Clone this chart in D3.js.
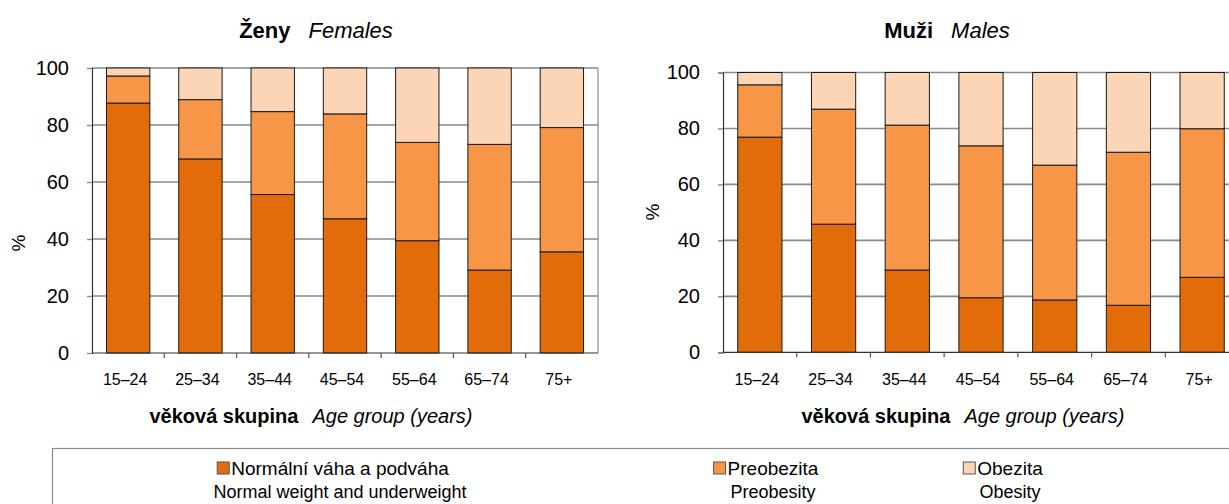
<!DOCTYPE html>
<html>
<head>
<meta charset="utf-8">
<script src="https://cdn.jsdelivr.net/npm/d3@7"></script>
<style>
  html, body { margin: 0; padding: 0; background: #fff; }
  svg { display: block; font-family: "Liberation Sans", Arial, sans-serif; }
</style>
</head>
<body>
<svg id="chart" width="1229" height="504"></svg>
<script>
// ---- data ----
const categories = ["15–24", "25–34", "35–44", "45–54", "55–64", "65–74", "75+"];
const seriesKeys = ["normal", "preobesity", "obesity"];
const seriesLabelsCz = ["Normální váha a podváha", "Preobezita", "Obezita"];
const seriesLabelsEn = ["Normal weight and underweight", "Preobesity", "Obesity"];

const femalesNormal     = [87.7, 68.1, 55.6, 47.1, 39.4, 29.1, 35.5];
const femalesPreobesity = [9.5, 20.8, 29.1, 36.8, 34.5, 44.1, 43.6];
const femalesObesity    = [2.8, 11.1, 15.3, 16.1, 26.1, 26.8, 20.9];

const malesNormal     = [76.9, 45.8, 29.4, 19.5, 18.7, 16.8, 26.8];
const malesPreobesity = [18.7, 41.1, 51.8, 54.3, 48.2, 54.7, 53.1];
const malesObesity    = [4.4, 13.1, 18.8, 26.2, 33.1, 28.5, 20.1];

const yTicks = [0, 20, 40, 60, 80, 100];

const colors = { normal: "#E36C0A", preobesity: "#F79646", obesity: "#FBD5B5" };

// ---- layout ----
const svg = d3.select("#chart");
const FONT = '"Liberation Sans", Arial, sans-serif';

const panels = [
  { titleCz: "Ženy", titleEn: "Females", titleX: 316, x0: 92, x1: 598, yTop: 68, yBot: 353,
    axisTitleX: 311, yLabelX: 18, yLabelY: 243,
    data: [femalesNormal, femalesPreobesity, femalesObesity] },
  { titleCz: "Muži", titleEn: "Males", titleX: 947, x0: 723, x1: 1239, yTop: 72.5, yBot: 352.3,
    axisTitleX: 963, yLabelX: 652, yLabelY: 212,
    data: [malesNormal, malesPreobesity, malesObesity] }
];

panels.forEach(p => {
  const g = svg.append("g");
  const x = d3.scaleBand().domain(categories).range([p.x0, p.x1]).paddingInner(0.4).paddingOuter(0.2);
  const xb = d3.scaleBand().domain(categories).range([p.x0, p.x1]);
  const y = d3.scaleLinear().domain([0, 100]).range([p.yBot, p.yTop]);

  // gridlines
  g.append("g").selectAll("line").data(yTicks.filter(d => d > 0)).join("line")
    .attr("x1", p.x0).attr("x2", p.x1)
    .attr("y1", d => y(d)).attr("y2", d => y(d))
    .attr("stroke", "#8a8a8a").attr("stroke-width", 1.6);
  // right border
  g.append("line").attr("x1", p.x1).attr("x2", p.x1).attr("y1", p.yTop).attr("y2", p.yBot)
    .attr("stroke", "#8a8a8a").attr("stroke-width", 1.2);

  // stacked bars
  const rows = categories.map((c, i) => {
    const o = { cat: c };
    seriesKeys.forEach((k, j) => o[k] = p.data[j][i]);
    return o;
  });
  const stacked = d3.stack().keys(seriesKeys)(rows);
  g.append("g").selectAll("g").data(stacked).join("g")
    .attr("fill", d => colors[d.key])
    .selectAll("rect").data(d => d).join("rect")
      .attr("x", d => x(d.data.cat))
      .attr("width", x.bandwidth())
      .attr("y", d => y(Math.min(d[1], 100)))
      .attr("height", d => y(d[0]) - y(Math.min(d[1], 100)))
      .attr("stroke", "#1a1a1a").attr("stroke-width", 1);

  // y axis
  const yAxis = d3.axisLeft(y).tickValues(yTicks).tickSize(5).tickPadding(18);
  const ya = g.append("g").attr("transform", `translate(${p.x0},0)`).call(yAxis);
  ya.select(".domain").attr("stroke", "#333").attr("stroke-width", 1.2);
  ya.selectAll(".tick line").attr("stroke", "#8a8a8a").attr("stroke-width", 1.4);
  ya.selectAll("text").attr("font-family", FONT).attr("font-size", 20).attr("fill", "#000");

  // x axis (ticks at category boundaries)
  const xa = g.append("g").attr("transform", `translate(0,${p.yBot})`);
  xa.append("line").attr("x1", p.x0).attr("x2", p.x1).attr("stroke", "#333").attr("stroke-width", 1.2);
  const xAxis = d3.axisBottom(xb).tickSize(0).tickPadding(21);
  const xg = xa.append("g").call(xAxis);
  xg.select(".domain").remove();
  xg.selectAll("text").attr("font-family", FONT).attr("font-size", 16).attr("fill", "#000")
    .attr("dx", -3);
  xa.append("g").selectAll("line").data(categories.slice(1)).join("line")
    .attr("x1", d => xb(d)).attr("x2", d => xb(d)).attr("y1", 0).attr("y2", 5)
    .attr("stroke", "#555").attr("stroke-width", 1.2);

  // title
  const t = svg.append("text").attr("x", p.titleX).attr("y", 38).attr("text-anchor", "middle")
    .attr("font-family", FONT).attr("font-size", 22).attr("fill", "#000");
  t.append("tspan").attr("font-weight", "bold").text(p.titleCz);
  t.append("tspan").attr("font-style", "italic").attr("dx", 18).text(p.titleEn);

  // x-axis title
  const at = svg.append("text").attr("x", p.axisTitleX).attr("y", 423).attr("text-anchor", "middle")
    .attr("font-family", FONT).attr("font-size", 20).attr("fill", "#000");
  at.append("tspan").attr("font-weight", "bold").text("věková skupina");
  at.append("tspan").attr("font-style", "italic").attr("dx", 14).text("Age group (years)");

  // y-axis title
  svg.append("text").attr("transform", `translate(${p.yLabelX},${p.yLabelY}) rotate(-90)`)
    .attr("text-anchor", "middle").attr("dy", "0.35em")
    .attr("font-family", FONT).attr("font-size", 19).attr("fill", "#000").text("%");
});

// ---- legend ----
const lg = svg.append("g");
lg.append("rect").attr("x", 52.5).attr("y", 448.5).attr("width", 1200).attr("height", 80)
  .attr("fill", "#fff").attr("stroke", "#8a8a8a").attr("stroke-width", 1.2);
const legendCenters = [340, 773, 1010];
seriesKeys.forEach((k, i) => {
  const cx = legendCenters[i];
  const t1 = lg.append("text").attr("x", cx).attr("y", 475).attr("text-anchor", "middle")
    .attr("font-family", FONT).attr("font-size", 19).attr("fill", "#000").text(seriesLabelsCz[i]);
  lg.append("text").attr("x", cx).attr("y", 498).attr("text-anchor", "middle")
    .attr("font-family", FONT).attr("font-size", 18).attr("fill", "#000").text(seriesLabelsEn[i]);
  const w = t1.node().getComputedTextLength();
  lg.append("rect").attr("x", cx - w / 2 - 14).attr("y", 462).attr("width", 12).attr("height", 12)
    .attr("fill", colors[k]).attr("stroke", "#555").attr("stroke-width", 1);
});
</script>
</body>
</html>
